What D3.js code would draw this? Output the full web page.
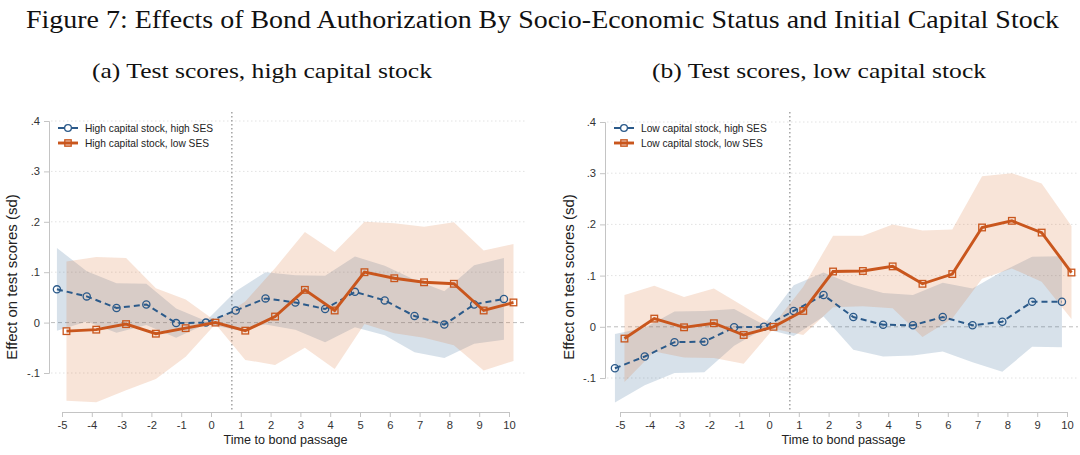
<!DOCTYPE html>
<html>
<head>
<meta charset="utf-8">
<script src="https://cdn.jsdelivr.net/npm/d3@7"></script>
<style>
  body { margin: 0; background: #fff; }
  svg { display: block; }
  .tick text { font-family: "Liberation Sans", Arial, sans-serif; }
</style>
</head>
<body>
<svg id="chart" width="1080" height="455"></svg>
<script>
// event time, years relative to bond passage
const years = [-5, -4, -3, -2, -1, 0, 1, 2, 3, 4, 5, 6, 7, 8, 9, 10];
const yTicks = [-0.1, 0, 0.1, 0.2, 0.3, 0.4];

// (a) high capital stock
const hiCapHiSes = [0.066, 0.052, 0.029, 0.036, -0.001, 0, 0.024, 0.048, 0.040, 0.027, 0.061, 0.044, 0.013, -0.004, 0.036, 0.047];
const hiCapHiSesLo = [-0.016, 0.002, -0.020, -0.005, -0.030, -0.003, -0.014, -0.004, -0.014, -0.039, -0.009, -0.025, -0.059, -0.070, -0.042, -0.034];
const hiCapHiSesHi = [0.148, 0.102, 0.078, 0.077, 0.028, 0.003, 0.062, 0.100, 0.094, 0.093, 0.131, 0.113, 0.085, 0.062, 0.114, 0.128];
const hiCapLoSes = [-0.017, -0.014, -0.003, -0.022, -0.011, 0, -0.016, 0.012, 0.065, 0.024, 0.100, 0.088, 0.080, 0.077, 0.024, 0.040];
const hiCapLoSesLo = [-0.155, -0.158, -0.134, -0.112, -0.068, -0.003, -0.074, -0.084, -0.050, -0.092, -0.003, -0.021, -0.030, -0.045, -0.095, -0.076];
const hiCapLoSesHi = [0.121, 0.130, 0.128, 0.068, 0.046, 0.003, 0.042, 0.108, 0.180, 0.140, 0.200, 0.197, 0.190, 0.199, 0.143, 0.156];

// (b) low capital stock
const loCapHiSes = [-0.081, -0.058, -0.030, -0.029, -0.001, 0, 0.031, 0.062, 0.019, 0.004, 0.003, 0.019, 0.003, 0.010, 0.049, 0.049];
const loCapHiSesLo = [-0.148, -0.114, -0.090, -0.089, -0.037, -0.004, -0.018, 0.020, -0.045, -0.058, -0.056, -0.048, -0.069, -0.088, -0.039, -0.040];
const loCapHiSesHi = [-0.014, -0.002, 0.030, 0.031, 0.035, 0.004, 0.081, 0.106, 0.082, 0.066, 0.062, 0.086, 0.075, 0.108, 0.137, 0.138];
const loCapLoSes = [-0.023, 0.016, -0.001, 0.007, -0.016, 0, 0.031, 0.108, 0.109, 0.118, 0.084, 0.103, 0.194, 0.207, 0.184, 0.106];
const loCapLoSesLo = [-0.108, -0.048, -0.060, -0.061, -0.072, -0.004, -0.016, 0.038, 0.040, 0.036, -0.020, 0.016, 0.094, 0.114, 0.088, 0.015];
const loCapLoSesHi = [0.062, 0.080, 0.058, 0.075, 0.040, 0.004, 0.078, 0.178, 0.178, 0.200, 0.188, 0.190, 0.294, 0.300, 0.280, 0.197];

const blue = "#2b5a8a";
const orange = "#c9561d";
const blueFill = "rgb(55,105,150)";
const orangeFill = "rgb(222,122,62)";
const sans = "'Liberation Sans', Arial, Helvetica, sans-serif";
const serif = "'Liberation Serif', 'DejaVu Serif', serif";

const svg = d3.select("#chart");

svg.append("text")
  .attr("x", 26).attr("y", 28)
  .attr("textLength", 1033).attr("lengthAdjust", "spacingAndGlyphs")
  .attr("font-family", serif).attr("font-size", 25).attr("fill", "#111")
  .text("Figure 7: Effects of Bond Authorization By Socio-Economic Status and Initial Capital Stock");

const panels = [
  {
    subtitle: "(a) Test scores, high capital stock", subX: 92, subLen: 340,
    xRange: [62, 509], yRange: [373, 121], axisX: 49, gridRight: 525, yTitleX: 12,
    hi: { est: hiCapHiSes, lo: hiCapHiSesLo, up: hiCapHiSesHi, label: "High capital stock, high SES" },
    low: { est: hiCapLoSes, lo: hiCapLoSesLo, up: hiCapLoSesHi, label: "High capital stock, low SES" }
  },
  {
    subtitle: "(b) Test scores, low capital stock", subX: 652, subLen: 334,
    xRange: [620, 1067], yRange: [378, 122], axisX: 605, gridRight: 1078, yTitleX: 569,
    hi: { est: loCapHiSes, lo: loCapHiSesLo, up: loCapHiSesHi, label: "Low capital stock, high SES" },
    low: { est: loCapLoSes, lo: loCapLoSesLo, up: loCapLoSesHi, label: "Low capital stock, low SES" }
  }
];

function yLabel(d) {
  if (d === 0) return "0";
  return d3.format(".1f")(d).replace("−", "-").replace("0.", ".");
}

function drawPanel(p) {
  const g = svg.append("g");
  const x = d3.scaleLinear().domain([-5, 10]).range(p.xRange);
  const y = d3.scaleLinear().domain([-0.1, 0.4]).range(p.yRange);
  const axisY = 412;

  g.append("text")
    .attr("x", p.subX).attr("y", 78)
    .attr("textLength", p.subLen).attr("lengthAdjust", "spacingAndGlyphs")
    .attr("font-family", serif).attr("font-size", 22).attr("fill", "#111")
    .text(p.subtitle);

  // horizontal grid
  g.selectAll(".grid").data(yTicks).join("line")
    .attr("x1", p.axisX + 2).attr("x2", p.gridRight)
    .attr("y1", (d) => y(d)).attr("y2", (d) => y(d))
    .attr("stroke", (d) => d === 0 ? "#bdbdbd" : "#e2e2e2")
    .attr("stroke-width", 1)
    .attr("stroke-dasharray", (d) => d === 0 ? "4,3" : "1.5,2.5");

  // reference line at bond passage
  g.append("line")
    .attr("x1", x(0.7)).attr("x2", x(0.7))
    .attr("y1", 112).attr("y2", axisY)
    .attr("stroke", "#8c8c8c").attr("stroke-width", 1.2)
    .attr("stroke-dasharray", "1.5,2.5");

  const offs = { hi: -0.17, low: 0.15 };
  const area = (s, off) => d3.area()
    .x((d, i) => x(years[i] + off))
    .y0((d, i) => y(s.lo[i]))
    .y1((d, i) => y(s.up[i]));

  g.append("path").attr("d", area(p.hi, offs.hi)(years))
    .attr("fill", blueFill).attr("fill-opacity", 0.2);
  g.append("path").attr("d", area(p.low, offs.low)(years))
    .attr("fill", orangeFill).attr("fill-opacity", 0.2);

  const line = (s, off) => d3.line()
    .x((d, i) => x(years[i] + off))
    .y((d, i) => y(s.est[i]));

  g.append("path").attr("d", line(p.hi, offs.hi)(years))
    .attr("fill", "none").attr("stroke", blue).attr("stroke-width", 2)
    .attr("stroke-dasharray", "6,4");
  g.selectAll(".dot").data(years).join("circle")
    .attr("cx", (d) => x(d + offs.hi)).attr("cy", (d, i) => y(p.hi.est[i]))
    .attr("r", 3.6).attr("fill", "none").attr("stroke", blue).attr("stroke-width", 1.3);

  g.append("path").attr("d", line(p.low, offs.low)(years))
    .attr("fill", "none").attr("stroke", orange).attr("stroke-width", 2.9);
  g.selectAll(".sq").data(years).join("rect")
    .attr("x", (d) => x(d + offs.low) - 3.3).attr("y", (d, i) => y(p.low.est[i]) - 3.3)
    .attr("width", 6.6).attr("height", 6.6)
    .attr("fill", "none").attr("stroke", orange).attr("stroke-width", 1.3);

  // axes
  const xAxis = g.append("g")
    .attr("transform", `translate(0,${axisY})`)
    .call(d3.axisBottom(x).tickValues(years).tickSize(5).tickPadding(4).tickFormat((d) => String(d)));
  xAxis.select(".domain").attr("stroke", "#c4c4c4");
  xAxis.selectAll(".tick line").attr("stroke", "#c4c4c4");
  xAxis.selectAll(".tick text").attr("font-size", 11.2).attr("fill", "#333");

  const yAxis = g.append("g")
    .attr("transform", `translate(${p.axisX},0)`)
    .call(d3.axisLeft(y).tickValues(yTicks).tickSize(5).tickPadding(4).tickFormat(yLabel));
  yAxis.select(".domain").attr("stroke", "#c4c4c4");
  yAxis.selectAll(".tick line").attr("stroke", "#c4c4c4");
  yAxis.selectAll(".tick text").attr("font-size", 11.2).attr("fill", "#333");

  g.append("text")
    .attr("x", (p.xRange[0] + p.xRange[1]) / 2).attr("y", 444)
    .attr("text-anchor", "middle")
    .attr("font-family", sans).attr("font-size", 12.6).attr("fill", "#222")
    .text("Time to bond passage");

  g.append("text")
    .attr("transform", `translate(${p.yTitleX + 5},277) rotate(-90)`)
    .attr("text-anchor", "middle")
    .attr("font-family", sans).attr("font-size", 15).attr("fill", "#222")
    .text("Effect on test scores (sd)");

  // legend
  const lx = p.axisX + 9;
  const leg = [
    { s: p.hi, y: 128 },
    { s: p.low, y: 143 }
  ];
  leg.forEach((L, k) => {
    const lg = g.append("g").attr("transform", `translate(${lx},${L.y})`);
    lg.append("line").attr("x1", 0).attr("x2", 20).attr("y1", 0).attr("y2", 0)
      .attr("stroke", k === 0 ? blue : orange).attr("stroke-width", k === 0 ? 2 : 2.9);
    if (k === 0) {
      lg.append("circle").attr("cx", 10).attr("cy", 0).attr("r", 3.4)
        .attr("fill", "#fff").attr("stroke", blue).attr("stroke-width", 1.3);
    } else {
      lg.append("rect").attr("x", 6.8).attr("y", -3.2).attr("width", 6.4).attr("height", 6.4)
        .attr("fill", orange).attr("fill-opacity", 0.35).attr("stroke", orange).attr("stroke-width", 1.3);
    }
    lg.append("text").attr("x", 27).attr("y", 0).attr("dy", "0.35em")
      .attr("font-family", sans).attr("font-size", 10.2).attr("fill", "#222")
      .text(L.s.label);
  });
}

panels.forEach(drawPanel);
</script>
</body>
</html>
